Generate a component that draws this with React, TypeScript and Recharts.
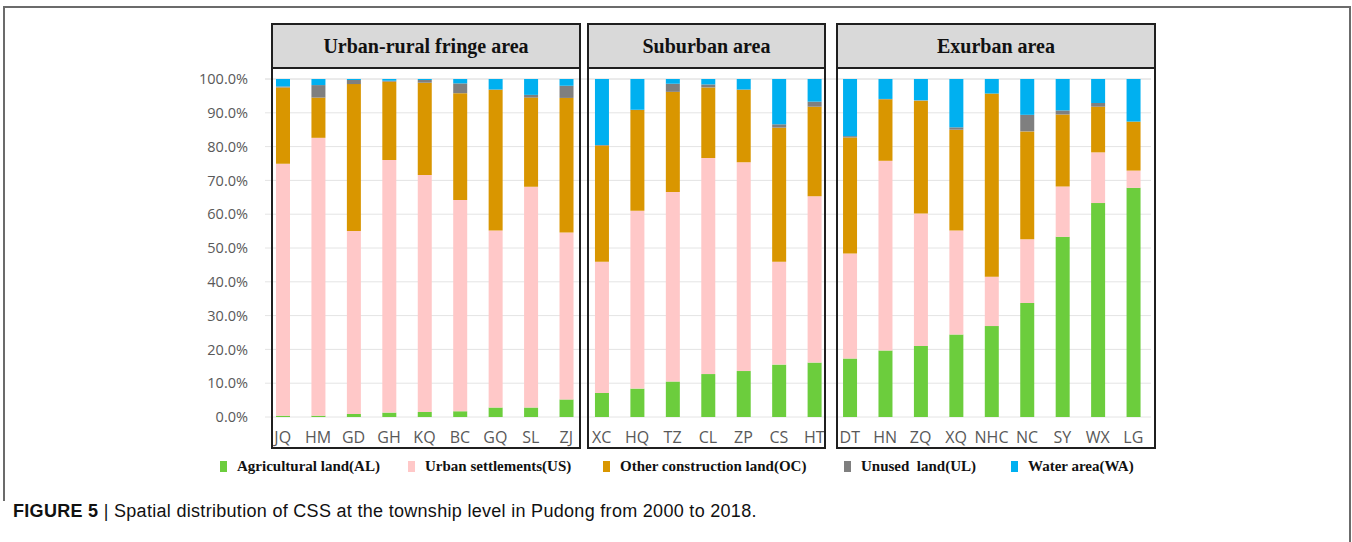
import { BarChart, Bar, XAxis, YAxis, CartesianGrid } from 'recharts';

const categories = ['JQ', 'HM', 'GD', 'GH', 'KQ', 'BC', 'GQ', 'SL', 'ZJ', 'XC', 'HQ', 'TZ', 'CL', 'ZP', 'CS', 'HT', 'DT', 'HN', 'ZQ', 'XQ', 'NHC', 'NC', 'SY', 'WX', 'LG'];
const agricultural = [0.4, 0.4, 0.9, 1.3, 1.5, 1.7, 2.8, 2.8, 5.2, 7.1, 8.4, 10.5, 12.7, 13.6, 15.5, 16.1, 17.3, 19.7, 21.0, 24.4, 26.9, 33.7, 53.3, 63.3, 67.8];
const urban = [74.5, 82.2, 54.1, 74.7, 70.1, 62.5, 52.4, 65.3, 49.4, 38.8, 52.6, 56.1, 63.9, 61.8, 30.4, 49.2, 31.1, 56.1, 39.2, 30.8, 14.6, 18.9, 14.9, 15.0, 5.1];
const otherConstruction = [22.6, 11.9, 43.5, 23.2, 27.3, 31.6, 41.6, 26.4, 39.8, 34.4, 29.8, 29.6, 20.9, 21.4, 39.7, 26.5, 34.3, 18.2, 33.4, 29.8, 54.2, 31.9, 21.3, 13.5, 14.5];
const unused = [0.3, 3.7, 1.2, 0.3, 0.8, 2.9, 0.1, 0.8, 3.6, 0.2, 0.1, 2.4, 0.9, 0.1, 1.0, 1.5, 0.4, 0.1, 0.1, 0.7, 0.0, 4.9, 1.2, 1.1, 0.0];
const water = [2.2, 1.8, 0.3, 0.5, 0.3, 1.3, 3.1, 4.7, 2.0, 19.5, 9.1, 1.4, 1.6, 3.1, 13.4, 6.7, 16.9, 5.9, 6.3, 14.3, 4.3, 10.6, 9.3, 7.1, 12.6];
const yTicks = [0, 10, 20, 30, 40, 50, 60, 70, 80, 90, 100];
const groupNames = ['Urban-rural fringe area', 'Suburban area', 'Exurban area'];
const seriesKeys = ['AL', 'US', 'OC', 'UL', 'WA'];
const seriesNames = ['Agricultural land(AL)', 'Urban settlements(US)', 'Other construction land(OC)', 'Unused  land(UL)', 'Water area(WA)'];
const seriesColors = ['#6ccd3d', '#ffc8c8', '#d99600', '#7f7f7f', '#00b0f0'];

const data = categories.map((name, i) => ({
  name,
  AL: agricultural[i],
  US: urban[i],
  OC: otherConstruction[i],
  UL: unused[i],
  WA: water[i],
}));

// panel boxes (left, width) in px
const panels = [
  { left: 271, width: 310 },
  { left: 587, width: 239 },
  { left: 836, width: 320 },
];
const legendX = [220, 408, 603, 844, 1011];

const serif = '"Liberation Serif", "Times New Roman", serif';

export default function App() {
  const tick = { fill: '#595959', fontSize: 14.5, fontFamily: '"Open Sans", sans-serif' } as const;
  return (
    <div style={{ position: 'absolute', left: 0, top: 0, width: 1352, height: 542, background: '#fff', overflow: 'hidden' }}>
      <div style={{ position: 'absolute', left: 4, top: 6, width: 1345, height: 600, borderTop: '2px solid #6b6b6b', borderRight: '2px solid #6b6b6b' }} />
      <div style={{ position: 'absolute', left: 3, top: 6, width: 2, height: 495, background: '#6b6b6b' }} />
      <div style={{ position: 'absolute', left: 0, top: 0 }}>
        <BarChart width={1352} height={542} data={data} margin={{ top: 79, right: 201, bottom: 95, left: 0 }}>
          <CartesianGrid vertical={false} stroke="#e4e4e4" />
          <XAxis dataKey="name" interval={0} height={30} axisLine={false} tickLine={false} tickMargin={9}
            tick={{ ...tick, fontSize: 16 }} />
          <YAxis width={265} domain={[0, 100]} ticks={yTicks} axisLine={false} tickLine={false} tickMargin={11}
            tick={tick} tickFormatter={(v: number) => `${v.toFixed(1)}%`} />
          {seriesKeys.map((k, i) => (
            <Bar key={k} dataKey={k} stackId="a" fill={seriesColors[i]} barSize={14} isAnimationActive={false} />
          ))}
        </BarChart>
      </div>
      {panels.map((p, i) => (
        <div key={groupNames[i]} style={{ position: 'absolute', left: p.left, top: 23, width: p.width, height: 426, border: '2px solid #1f1f1f', boxSizing: 'border-box', pointerEvents: 'none' }}>
          <div style={{ height: 44, background: '#d9d9d9', borderBottom: '2px solid #1f1f1f', boxSizing: 'border-box', display: 'flex', alignItems: 'center', justifyContent: 'center', fontFamily: serif, fontWeight: 'bold', fontSize: 20, color: '#111' }}>
            {groupNames[i]}
          </div>
        </div>
      ))}
      {seriesNames.map((n, i) => (
        <div key={n} style={{ position: 'absolute', left: legendX[i], top: 458, display: 'flex', alignItems: 'center', fontFamily: serif, fontWeight: 'bold', fontSize: 15, color: '#111', whiteSpace: 'pre' }}>
          <span style={{ display: 'inline-block', width: 7, height: 11, background: seriesColors[i], marginRight: 10 }} />
          {n}
        </div>
      ))}
      <div style={{ position: 'absolute', left: 13, top: 501, fontFamily: '"Liberation Sans", Arial, sans-serif', fontSize: 18, letterSpacing: 0.3, color: '#111', whiteSpace: 'nowrap' }}>
        <b>FIGURE 5</b> | Spatial distribution of CSS at the township level in Pudong from 2000 to 2018.
      </div>
    </div>
  );
}
